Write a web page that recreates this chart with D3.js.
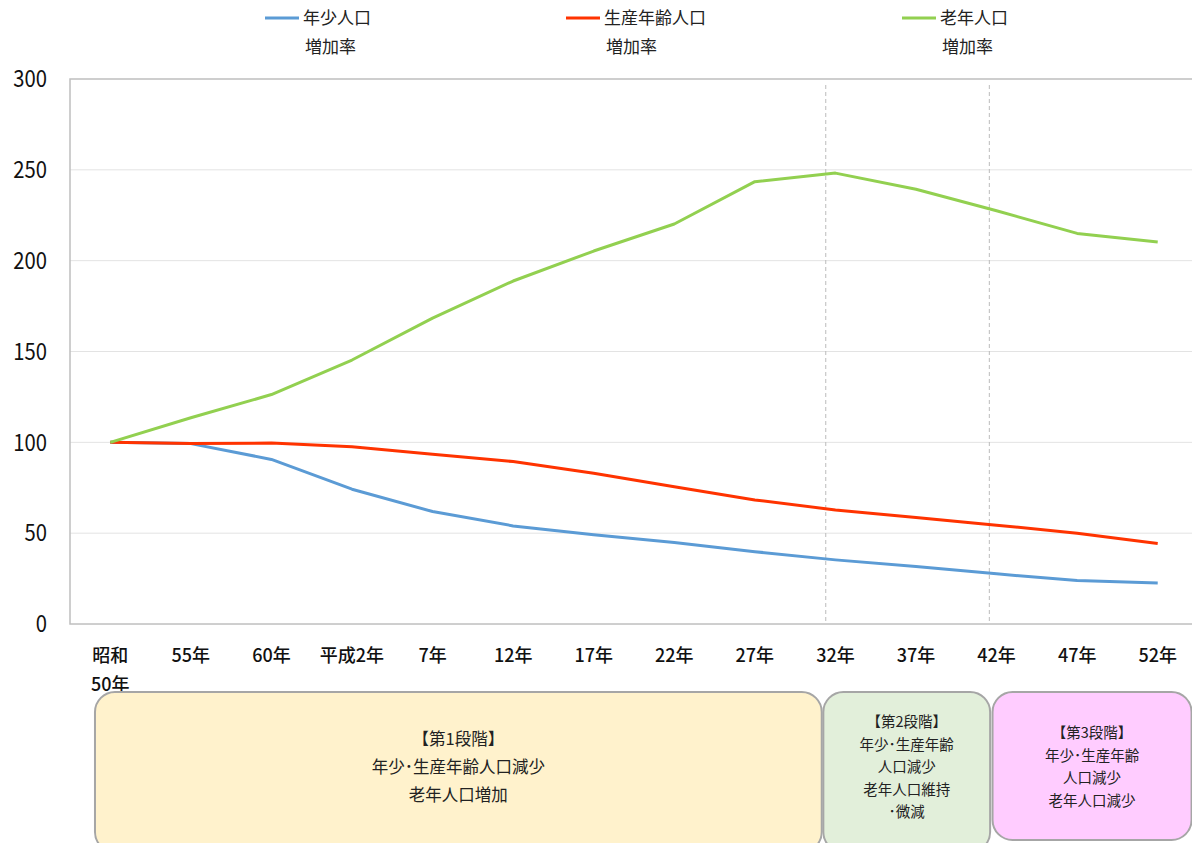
<!DOCTYPE html>
<html>
<head>
<meta charset="utf-8">
<script src="https://cdn.jsdelivr.net/npm/d3@7.9.0/dist/d3.min.js"></script>
<style>
  html, body { margin: 0; padding: 0; background: #fff; overflow: hidden; }
  svg { display: block; font-family: "Noto Sans CJK JP", "Noto Sans", sans-serif; }
</style>
</head>
<body>
<svg id="chart" width="1192" height="843"></svg>
<script>
// categories (years)
const years = ["昭和\n50年", "55年", "60年", "平成2年", "7年", "12年", "17年", "22年", "27年", "32年", "37年", "42年", "47年", "52年"];

// index values (昭和50年 = 100)
const youth   = [100, 99.3, 90.6, 74.2, 61.9, 54.0, 49.1, 44.9, 39.8, 35.3, 31.6, 27.6, 23.9, 22.6];
const working = [100, 99.3, 99.6, 97.6, 93.4, 89.4, 83.0, 75.6, 68.3, 62.8, 58.6, 54.4, 50.0, 44.3];
const elderly = [100, 113.5, 126.3, 145.3, 168.4, 188.8, 205.3, 220.2, 243.5, 248.2, 239.3, 227.5, 215.0, 210.3];

const yTicks = [0, 50, 100, 150, 200, 250, 300];

const seriesNames = ["年少人口\n増加率", "生産年齢人口\n増加率", "老年人口\n増加率"];
const seriesColors = ["#5B9BD5", "#FF3300", "#92D050"];

const stageTexts = [
  ["【第1段階】", "年少･生産年齢人口減少", "老年人口増加"],
  ["【第2段階】", "年少･生産年齢", "人口減少", "老年人口維持", "･微減"],
  ["【第3段階】", "年少･生産年齢", "人口減少", "老年人口減少"]
];
const stageFills = ["#FFF2CC", "#E2EFDA", "#FFCCFF"];

const svg = d3.select("#chart");
const plot = { left: 70, top: 79, width: 1128, height: 545 };

const x = d3.scalePoint().domain(years).range([plot.left, plot.left + plot.width]).padding(0.5);
const y = d3.scaleLinear().domain([0, 300]).range([plot.top + plot.height, plot.top]);
// fractional category index -> x, for stage boundaries
const xi = d3.scaleLinear().domain([0, years.length - 1]).range([x(years[0]), x(years[years.length - 1])]);

// gridlines
svg.append("g")
  .selectAll("line")
  .data(yTicks.filter(d => d > 0 && d < 300))
  .join("line")
  .attr("x1", plot.left).attr("x2", plot.left + plot.width)
  .attr("y1", d => y(d)).attr("y2", d => y(d))
  .attr("stroke", "#E3E3E3").attr("stroke-width", 1);

// plot border
svg.append("rect")
  .attr("x", plot.left).attr("y", plot.top)
  .attr("width", plot.width).attr("height", plot.height)
  .attr("fill", "none").attr("stroke", "#BFBFBF").attr("stroke-width", 1.5);

// stage dividers
const breaks = [8.88, 10.91];
svg.append("g")
  .selectAll("line")
  .data(breaks)
  .join("line")
  .attr("x1", d => xi(d)).attr("x2", d => xi(d))
  .attr("y1", plot.top + 6).attr("y2", plot.top + plot.height)
  .attr("stroke", "#BBBBBB").attr("stroke-width", 1)
  .attr("stroke-dasharray", "4,3");

// y axis labels
svg.append("g")
  .selectAll("text")
  .data(yTicks)
  .join("text")
  .attr("x", 47)
  .attr("y", d => y(d))
  .attr("dy", "0.36em")
  .attr("text-anchor", "end")
  .attr("font-size", 23)
  .attr("fill", "#111")
  .attr("transform", d => `translate(${47 * 0.12},0) scale(0.88,1)`)
  .text(d => d);

// x axis labels
const xl = svg.append("g")
  .selectAll("text")
  .data(years)
  .join("text")
  .attr("x", d => x(d))
  .attr("y", 662)
  .attr("text-anchor", "middle")
  .attr("font-size", 18)
  .attr("font-weight", 500)
  .attr("fill", "#111");
xl.each(function(d) {
  const t = d3.select(this);
  d.split("\n").forEach((s, i) => {
    t.append("tspan").attr("x", x(d)).attr("dy", i === 0 ? 0 : 29).text(s);
  });
});

// lines
const line = d3.line()
  .x((d, i) => x(years[i]))
  .y(d => y(d));

[youth, working, elderly].forEach((s, idx) => {
  svg.append("path")
    .attr("d", line(s))
    .attr("fill", "none")
    .attr("stroke", seriesColors[idx])
    .attr("stroke-width", 3)
    .attr("stroke-linejoin", "round");
});

// legend
const legendX = [265, 566, 902];
seriesNames.forEach((name, idx) => {
  const g = svg.append("g").attr("transform", `translate(${legendX[idx]},0)`);
  g.append("line")
    .attr("x1", 0).attr("x2", 34).attr("y1", 18).attr("y2", 18)
    .attr("stroke", seriesColors[idx]).attr("stroke-width", 3);
  name.split("\n").forEach((s, i) => {
    g.append("text")
      .attr("x", 38 + i * 2)
      .attr("y", 18 + i * 29)
      .attr("dy", "0.35em")
      .attr("font-size", 17)
      .attr("fill", "#222")
      .text(s);
  });
});

// stage boxes
const boxEdges = [[-0.19, 8.83], [8.85, 10.92], [10.95, 13.42]];
const boxTop = 692;
const boxHeights = [160, 160, 148];
const lineGap = [28, 22.5, 22.5];
const fontSizes = [16.5, 14.5, 14.5];
stageTexts.forEach((lines, idx) => {
  const x0 = xi(boxEdges[idx][0]);
  const x1 = xi(boxEdges[idx][1]);
  svg.append("rect")
    .attr("x", x0).attr("y", boxTop)
    .attr("width", x1 - x0).attr("height", boxHeights[idx])
    .attr("rx", 20).attr("ry", 20)
    .attr("fill", stageFills[idx])
    .attr("stroke", "#A6A6A6").attr("stroke-width", 2);
  const cx = (x0 + x1) / 2;
  const cy = boxTop + 75;
  const n = lines.length;
  lines.forEach((s, i) => {
    svg.append("text")
      .attr("x", cx)
      .attr("y", cy + (i - (n - 1) / 2) * lineGap[idx])
      .attr("dy", "0.35em")
      .attr("text-anchor", "middle")
      .attr("font-size", fontSizes[idx])
      .attr("fill", "#222")
      .text(s);
  });
});
</script>
</body>
</html>
